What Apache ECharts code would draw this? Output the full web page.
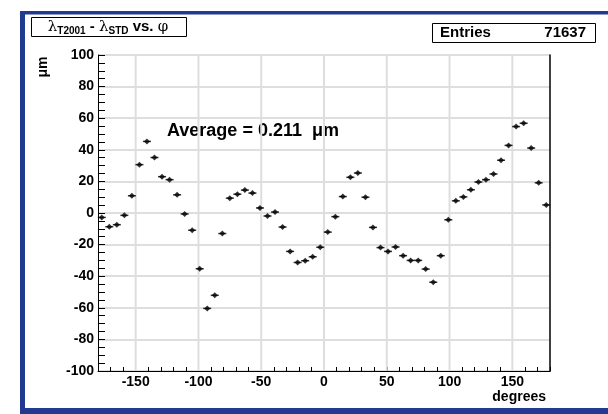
<!DOCTYPE html>
<html>
<head>
<meta charset="utf-8">
<script src="https://cdn.jsdelivr.net/npm/echarts@6/dist/echarts.min.js"></script>
<style>
html, body { margin: 0; padding: 0; background: #fff; }
#main { width: 608px; height: 414px; }
</style>
</head>
<body>
<div id="main"></div>
<script>
// bin centres (degrees) and lambda difference (um)
var phi = [-177, -171, -165, -159, -153, -147, -141, -135, -129, -123,
    -117, -111, -105, -99, -93, -87, -81, -75, -69, -63,
    -57, -51, -45, -39, -33, -27, -21, -15, -9, -3,
    3, 9, 15, 21, 27, 33, 39, 45, 51, 57,
    63, 69, 75, 81, 87, 93, 99, 105, 111, 117,
    123, 129, 135, 141, 147, 153, 159, 165, 171, 177];
var dLambda = [-2.8, -8.7, -7.4, -1.5, 10.9, 30.6, 45.3, 35.1, 23.0, 21.1,
    11.5, -0.6, -10.9, -35.3, -60.4, -52.1, -13.0, 9.4, 11.9, 14.5,
    12.6, 3.2, -1.9, 0.6, -8.9, -24.3, -31.3, -30.2, -27.7, -21.7,
    -12.1, -2.3, 10.4, 22.6, 25.3, 10.0, -9.1, -21.9, -24.3, -21.5,
    -27.0, -30.0, -30.0, -35.5, -43.8, -27.0, -4.3, 7.7, 10.2, 14.7,
    19.6, 21.1, 24.7, 33.4, 42.8, 54.7, 56.8, 41.1, 19.1, 5.1];
var xGrid = [-150, -100, -50, 0, 50, 100, 150];
var entries = 71637;
var average = 0.211;

var points = phi.map(function (p, i) { return [p, dLambda[i]]; });
var font = 'Liberation Sans, Arial, Helvetica, sans-serif';
var frameBlue = '#213a8f';
var gridGrey = '#dedede';

var chart = echarts.init(document.getElementById('main'));
chart.setOption({
    backgroundColor: '#fff',
    animation: false,
    grid: { left: 98, right: 58, top: 55, bottom: 43 },
    xAxis: [{
        type: 'value',
        min: -180,
        max: 180,
        interval: 10,
        axisLine: { show: true, onZero: false, lineStyle: { color: '#000', width: 1 } },
        axisTick: { show: true, inside: true, length: 4, lineStyle: { color: '#000' } },
        splitLine: { show: false },
        axisLabel: {
            margin: 4,
            color: '#000',
            fontFamily: font,
            fontWeight: 'bold',
            fontSize: 14,
            formatter: function (v) { return v % 50 === 0 ? String(v) : ''; }
        }
    }],
    yAxis: [{
        type: 'value',
        min: -100,
        max: 100,
        interval: 20,
        axisLine: { show: true, onZero: false, lineStyle: { color: '#000', width: 1 } },
        axisTick: { show: true, inside: true, length: 7, lineStyle: { color: '#000' } },
        minorTick: { show: true, splitNumber: 4, length: 7, lineStyle: { color: '#000' } },
        splitLine: { show: true, lineStyle: { color: gridGrey, width: 2 } },
        axisLabel: {
            margin: 4,
            color: '#000',
            fontFamily: font,
            fontWeight: 'bold',
            fontSize: 14
        }
    }, {
        type: 'value',
        position: 'right',
        min: -100,
        max: 100,
        axisLine: { show: true, onZero: false, lineStyle: { color: '#000', width: 1.5 } },
        axisTick: { show: false },
        axisLabel: { show: false },
        splitLine: { show: false }
    }],
    series: [{
        // vertical grid lines at the labelled x values
        type: 'custom',
        data: xGrid,
        z: 1,
        silent: true,
        renderItem: function (params, api) {
            var v = api.value(0);
            var p0 = api.coord([v, -100]);
            var p1 = api.coord([v, 100]);
            return {
                type: 'line',
                shape: { x1: p0[0], y1: p0[1], x2: p1[0], y2: p1[1] },
                style: { stroke: gridGrey, lineWidth: 2 }
            };
        },
        encode: { x: 0 }
    }, {
        // horizontal bin-width bars
        type: 'scatter',
        data: points,
        symbol: 'rect',
        symbolSize: [8, 1.5],
        itemStyle: { color: '#000' },
        z: 3
    }, {
        type: 'scatter',
        data: points,
        symbol: 'diamond',
        symbolSize: [6, 6],
        itemStyle: { color: '#000' },
        z: 4
    }],
    graphic: [
        // blue frame
        { type: 'rect', shape: { x: 20, y: 11, width: 5, height: 403 }, style: { fill: frameBlue }, silent: true },
        { type: 'rect', shape: { x: 20, y: 11, width: 588, height: 3.5 }, style: { fill: frameBlue }, silent: true },
        { type: 'rect', shape: { x: 20, y: 408, width: 588, height: 6 }, style: { fill: frameBlue }, silent: true },
        // title box
        {
            type: 'rect',
            shape: { x: 31.5, y: 17.5, width: 155, height: 19 },
            style: { fill: '#fff', stroke: '#000', lineWidth: 1 }
        },
        {
            type: 'text',
            x: 108,
            y: 27,
            style: {
                text: '{l|λ}{s|T2001}{b| - }{l|λ}{s|STD}{b| vs. }{l|φ}',
                align: 'center',
                verticalAlign: 'middle',
                rich: {
                    l: { fontFamily: 'DejaVu Serif, serif', fontSize: 15, fill: '#000' },
                    s: { fontFamily: font, fontWeight: 'bold', fontSize: 10, fill: '#000', padding: [8, 0, 0, 0] },
                    b: { fontFamily: font, fontWeight: 'bold', fontSize: 15, fill: '#000' }
                }
            }
        },
        // entries box
        {
            type: 'rect',
            shape: { x: 432.5, y: 23.5, width: 163, height: 19 },
            style: { fill: '#fff', stroke: '#000', lineWidth: 1 }
        },
        {
            type: 'text',
            x: 440,
            y: 33,
            style: { text: 'Entries', fontFamily: font, fontWeight: 'bold', fontSize: 15, fill: '#000', verticalAlign: 'middle' }
        },
        {
            type: 'text',
            x: 586,
            y: 33,
            style: { text: String(entries), fontFamily: font, fontWeight: 'bold', fontSize: 15, fill: '#000', align: 'right', verticalAlign: 'middle' }
        },
        // y axis unit
        {
            type: 'text',
            x: 43,
            y: 67,
            rotation: Math.PI / 2,
            style: { text: 'μm', fontFamily: font, fontWeight: 'bold', fontSize: 14, fill: '#000', align: 'center', verticalAlign: 'middle' }
        },
        // average label
        {
            type: 'text',
            x: 167,
            y: 131,
            style: { text: 'Average = ' + average + '  μm', fontFamily: font, fontWeight: 'bold', fontSize: 18, fill: '#000', verticalAlign: 'middle' }
        },
        // x axis title
        {
            type: 'text',
            x: 546,
            y: 397,
            style: { text: 'degrees', fontFamily: font, fontWeight: 'bold', fontSize: 14, fill: '#000', align: 'right', verticalAlign: 'middle' }
        }
    ]
});
</script>
</body>
</html>
